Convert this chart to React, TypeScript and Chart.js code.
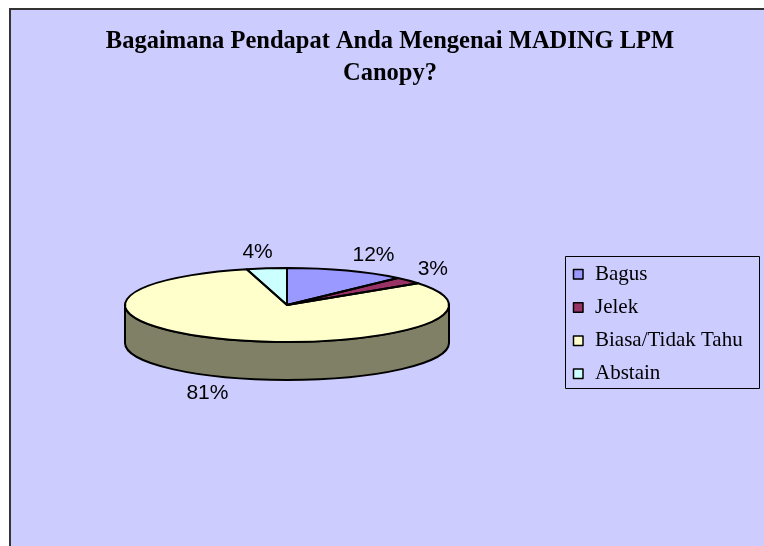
import React, { useEffect, useRef } from "react";
import { Chart, registerables } from "chart.js";

Chart.register(...registerables);

const TITLE_LINES = ["Bagaimana Pendapat Anda Mengenai MADING LPM", "Canopy?"];
const CATEGORIES = ["Bagus", "Jelek", "Biasa/Tidak Tahu", "Abstain"];
const VALUES = [12, 3, 81, 4];
const COLORS = ["#9999FF", "#993366", "#FFFFCC", "#CCFFFF"];
const PERCENT_LABELS = ["12%", "3%", "81%", "4%"];

const FLAT = 0.228; // vertical squash of the pie (tilt)
const DEPTH = 38; // thickness of the 3D pie

function darken(hex: string, f: number) {
  const n = parseInt(hex.slice(1), 16);
  const r = Math.round(((n >> 16) & 255) * f);
  const g = Math.round(((n >> 8) & 255) * f);
  const b = Math.round((n & 255) * f);
  return `rgb(${r},${g},${b})`;
}

const pie3d = {
  id: "pie3d",
  beforeDraw(chart: any) {
    const ctx = chart.ctx;
    const W = chart.width;
    const H = chart.height;
    ctx.save();
    ctx.fillStyle = "#FFFFFF";
    ctx.fillRect(0, 0, W, H);
    ctx.fillStyle = "#CCCCFF";
    ctx.fillRect(10, 9, W, H);
    ctx.strokeStyle = "#333333";
    ctx.lineWidth = 2;
    ctx.beginPath();
    ctx.moveTo(10, H + 5);
    ctx.lineTo(10, 9);
    ctx.lineTo(W + 5, 9);
    ctx.stroke();
    // title
    ctx.fillStyle = "#000000";
    ctx.font = "bold 24.5px 'Liberation Serif', 'Times New Roman', serif";
    ctx.textAlign = "center";
    ctx.textBaseline = "alphabetic";
    TITLE_LINES.forEach((t, i) => ctx.fillText(t, 390, 48 + i * 32));
    ctx.restore();
  },
  beforeDatasetsDraw(chart: any) {
    const ctx = chart.ctx;
    const arcs = chart.getDatasetMeta(0).data;
    if (!arcs.length) return;
    const { x, y, outerRadius } = arcs[0].getProps(["x", "y", "outerRadius"], true);
    const rx = outerRadius;
    const ry = rx * FLAT;
    // side walls
    ctx.save();
    arcs.forEach((arc: any, i: number) => {
      const { startAngle, endAngle } = arc.getProps(["startAngle", "endAngle"], true);
      for (let k = -2; k <= 2; k++) {
        const lo = Math.max(startAngle, k * 2 * Math.PI);
        const hi = Math.min(endAngle, k * 2 * Math.PI + Math.PI);
        if (hi <= lo) continue;
        ctx.beginPath();
        ctx.ellipse(x, y, rx, ry, 0, lo, hi, false);
        ctx.lineTo(x + rx * Math.cos(hi), y + DEPTH + ry * Math.sin(hi));
        ctx.ellipse(x, y + DEPTH, rx, ry, 0, hi, lo, true);
        ctx.closePath();
        ctx.fillStyle = darken(COLORS[i], 0.5);
        ctx.fill();
        ctx.lineWidth = 2;
        ctx.strokeStyle = "#000000";
        ctx.lineJoin = "round";
        ctx.stroke();
      }
    });
    ctx.restore();
    ctx.save();
    ctx.translate(x, y);
    ctx.scale(1, FLAT);
    ctx.translate(-x, -y);
  },
  afterDatasetsDraw(chart: any) {
    const ctx = chart.ctx;
    ctx.restore();
    const arcs = chart.getDatasetMeta(0).data;
    if (!arcs.length) return;
    const { x, y, outerRadius } = arcs[0].getProps(["x", "y", "outerRadius"], true);
    const rx = outerRadius;
    const ry = rx * FLAT;
    ctx.save();
    ctx.lineWidth = 2;
    ctx.strokeStyle = "#000000";
    ctx.lineJoin = "round";
    arcs.forEach((arc: any) => {
      const { startAngle, endAngle } = arc.getProps(["startAngle", "endAngle"], true);
      ctx.beginPath();
      ctx.moveTo(x, y);
      ctx.lineTo(x + rx * Math.cos(startAngle), y + ry * Math.sin(startAngle));
      ctx.ellipse(x, y, rx, ry, 0, startAngle, endAngle, false);
      ctx.closePath();
      ctx.stroke();
    });
    // percentage labels
    ctx.fillStyle = "#000000";
    ctx.font = "21px 'Liberation Sans', Arial, sans-serif";
    ctx.textAlign = "center";
    ctx.textBaseline = "middle";
    arcs.forEach((arc: any, i: number) => {
      const { startAngle, endAngle } = arc.getProps(["startAngle", "endAngle"], true);
      const mid = (startAngle + endAngle) / 2;
      const c = Math.cos(mid);
      const s = Math.sin(mid);
      const kx = c > 0.6 ? 1.2 : 1.45;
      const lx = x + rx * c * kx;
      const ly = y + ry * s * 1.45 + (s > 0 ? DEPTH : 0);
      ctx.fillText(PERCENT_LABELS[i], lx, ly);
    });
    // legend
    const lx0 = 565.5, ly0 = 256.5, lw = 194, lh = 132;
    ctx.lineWidth = 1;
    ctx.strokeStyle = "#000000";
    ctx.strokeRect(lx0, ly0, lw, lh);
    ctx.font = "21px 'Liberation Serif', 'Times New Roman', serif";
    ctx.textAlign = "left";
    ctx.textBaseline = "middle";
    CATEGORIES.forEach((name, i) => {
      const cy = 274 + i * 33.2;
      ctx.fillStyle = COLORS[i];
      ctx.fillRect(573, cy - 4.5, 10, 10);
      ctx.strokeStyle = "#000000";
      ctx.lineWidth = 1.5;
      ctx.strokeRect(573.5, cy - 4.5, 9.5, 9.5);
      ctx.fillStyle = "#000000";
      ctx.fillText(name, 595, cy);
    });
    ctx.restore();
  },
};

export default function App() {
  const ref = useRef<HTMLCanvasElement | null>(null);
  useEffect(() => {
    if (!ref.current) return;
    const chart = new Chart(ref.current, {
      type: "pie",
      data: {
        labels: CATEGORIES,
        datasets: [
          {
            data: VALUES,
            backgroundColor: COLORS,
            borderWidth: 0,
          },
        ],
      },
      options: {
        responsive: false,
        animation: false,
        layout: { padding: { left: 125, right: 315, top: 143, bottom: 79 } },
        plugins: {
          legend: { display: false },
          title: { display: false },
          tooltip: { enabled: false },
        },
      },
      plugins: [pie3d],
    });
    return () => chart.destroy();
  }, []);
  return (
    <div style={{ position: "fixed", left: 0, top: 0, width: 764, height: 546 }}>
      <canvas ref={ref} width={764} height={546} style={{ display: "block" }} />
    </div>
  );
}
